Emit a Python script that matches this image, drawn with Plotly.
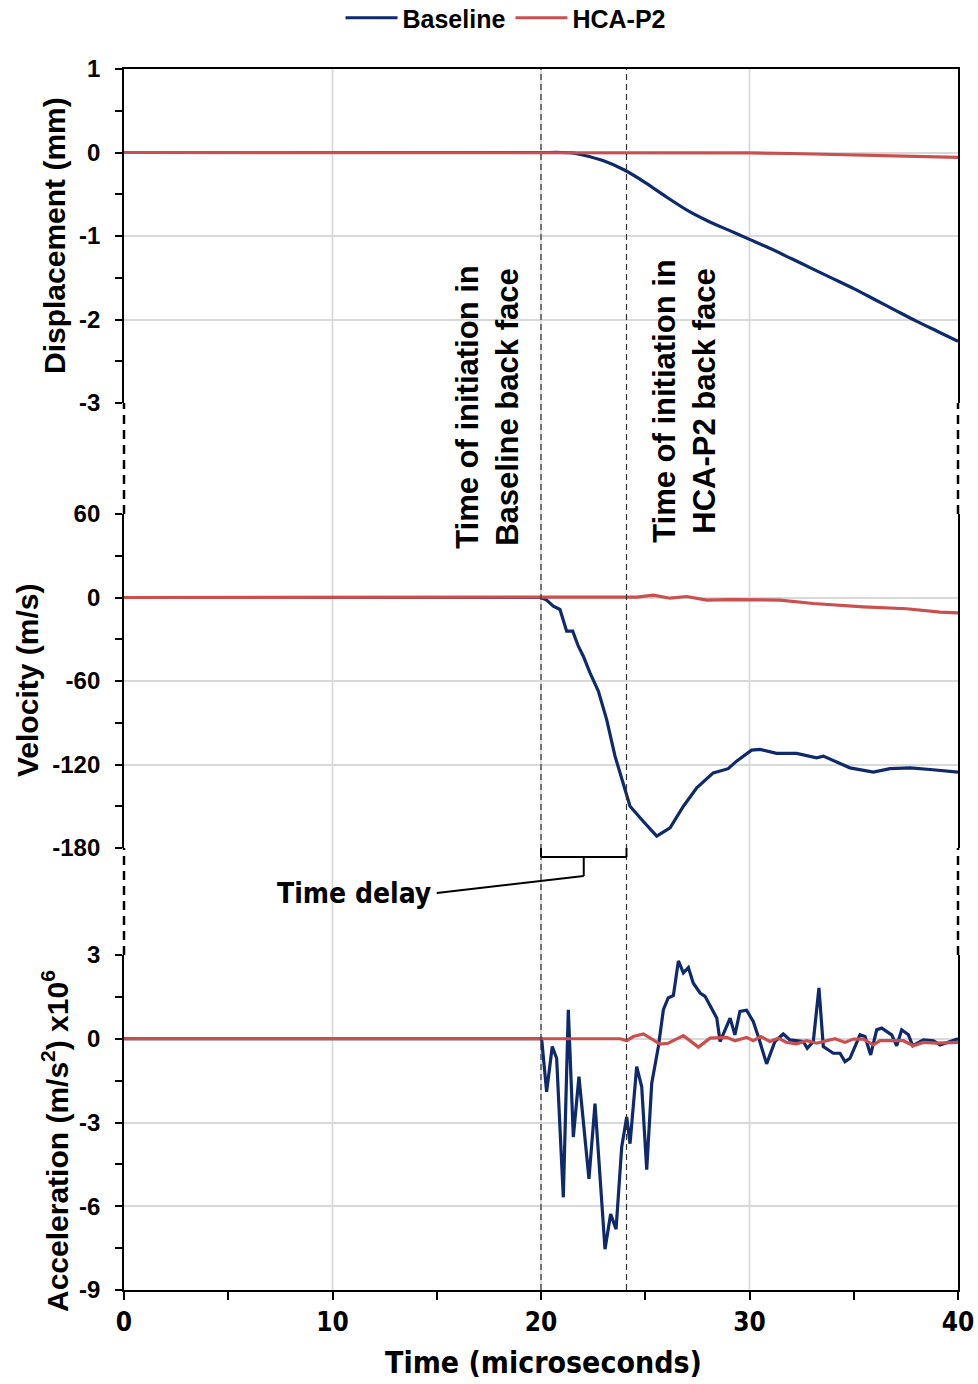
import plotly.graph_objects as go

# ---------------- data ----------------
# Displacement (mm)
t_disp_base = [0, 20, 21, 21.5, 22, 23, 24, 25, 26, 27, 28, 29, 30, 31, 32, 33, 34, 35, 36, 37, 38, 39, 40]
disp_base = [0, 0, 0, -0.005, -0.03, -0.1, -0.21, -0.36, -0.53, -0.69, -0.82, -0.93, -1.04, -1.15, -1.27,
             -1.39, -1.51, -1.63, -1.76, -1.89, -2.02, -2.14, -2.26]
t_disp_hca = [0, 28, 30, 32, 34, 36, 38, 40]
disp_hca = [0, 0, -0.005, -0.012, -0.022, -0.033, -0.045, -0.058]

# Velocity (m/s)
t_vel_base = [0, 20.0, 20.27, 20.59, 20.91, 21.23, 21.52, 21.79, 22.03, 22.35, 22.75, 23.15, 23.55, 23.87,
              24.27, 24.9, 25.55, 26.19, 26.83, 27.47, 28.26, 28.98, 29.38, 30.1, 30.5, 31.3, 32.26,
              33.22, 33.54, 34.82, 35.94, 36.74, 37.7, 38.66, 40]
vel_base = [0, 0, -1.9, -6.2, -8.6, -24.2, -24.2, -35, -42.2, -54.1, -67.3, -87.7, -114, -130.8,
            -150, -160.8, -171.5, -165.5, -150, -136.8, -126, -123, -117.6, -109.7, -109.2, -112, -112,
            -115.2, -114, -122.4, -125.5, -123, -122.4, -123.6, -125.5]
t_vel_hca = [0, 24.0, 24.6, 25.39, 26.19, 26.99, 27.95, 29.07, 31.46, 33.06, 35.46, 37.54, 39.14, 40]
vel_hca = [0, 0, 0.3, 1.7, -0.5, 0.7, -1.9, -1.5, -1.9, -4.3, -6.7, -8.1, -10.5, -11.0]

# Acceleration (m/s^2) x10^6
t_acc_base = [0, 20.03, 20.27, 20.54, 20.75, 21.07, 21.31, 21.55, 21.82, 22.3, 22.59, 23.07, 23.34, 23.6,
              23.87, 24.11, 24.27, 24.59, 24.83, 25.07, 25.31, 25.63, 25.87, 26.1, 26.35, 26.59, 26.83,
              27.07, 27.3, 27.63, 27.87, 28.19, 28.43, 28.59, 29.07, 29.3, 29.54, 29.86, 30.18, 30.42,
              30.82, 31.22, 31.62, 31.94, 32.58, 32.77, 33.06, 33.33, 33.54, 34.02, 34.34, 34.58, 34.82,
              35.3, 35.54, 35.81, 36.1, 36.34, 36.82, 37.06, 37.3, 37.62, 37.83, 38.34, 38.82, 39.14,
              39.62, 40]
acc_base = [0, 0, -1.9, -0.28, -0.7, -5.68, 1.04, -3.52, -1.36, -5.02, -2.32, -7.54, -6.28, -6.82,
            -3.88, -2.8, -3.76, -1.0, -1.72, -4.69, -1.6, -0.28, 1.04, 1.46, 1.55, 2.79, 2.36,
            2.55, 2.0, 1.64, 1.52, 1.04, 0.74, -0.1, 0.74, 0.14, 0.98, 1.02, 0.62, 0.08,
            -0.9, -0.1, 0.17, -0.04, -0.1, -0.34, -0.1, 1.82, -0.28, -0.52, -0.52, -0.82, -0.7,
            0.14, 0.08, -0.58, 0.32, 0.38, 0.14, -0.25, 0.32, 0.14, -0.25, -0.04, -0.07, -0.22,
            -0.1, 0]
t_acc_hca = [0, 23.8, 24.11, 24.43, 24.91, 25.23, 25.71, 26.1, 26.83, 27.55, 28.11, 28.91, 29.3, 29.86,
             30.18, 30.54, 30.98, 31.38, 31.78, 32.26, 32.74, 33.22, 33.62, 34.1, 34.58, 34.98, 35.46,
             35.94, 36.26, 37.06, 37.38, 37.86, 38.34, 38.98, 40]
acc_hca = [0, 0, -0.07, 0.08, 0.17, 0.02, -0.19, -0.16, 0.11, -0.3, 0.02, 0.05, -0.07, 0.05,
           -0.07, 0.08, -0.1, 0.02, -0.13, -0.18, -0.07, -0.16, -0.1, 0, -0.13, -0.01, -0.01,
           -0.22, -0.07, -0.07, -0.07, -0.25, -0.13, -0.16, -0.13]

x_ticks = [0, 10, 20, 30, 40]
disp_ticks = [1, 0, -1, -2, -3]
vel_ticks = [60, 0, -60, -120, -180]
acc_ticks = [3, 0, -3, -6, -9]
t_init_base = 20.0
t_init_hca = 24.1

BLUE = "#0e2a6c"
RED = "#c9504f"
GRID = "#d9d9d9"
FONT = "Liberation Sans, Arial, Helvetica, sans-serif"
NARROW = "Liberation Sans Narrow, DejaVu Sans Condensed, Liberation Sans, Arial, sans-serif"

# layout geometry (pixels)
W, H = 978, 1384
ML, MR, MT, MB = 124, 20, 69, 94
PW, PH = W - ML - MR, H - MT - MB


def py(p):  # pixel y -> paper y
    return (H - MB - p) / PH


def px(p):  # pixel x -> paper x
    return (p - ML) / PW


def bold_labels(vals):
    return ["<b>%g</b>" % v for v in vals]


dom1 = [py(403), 1.0]
dom2 = [py(848), py(514)]
dom3 = [0.0, py(955)]

fig = go.Figure()
series = [
    ("x", "y", t_disp_base, disp_base, t_disp_hca, disp_hca, True, "spline"),
    ("x2", "y2", t_vel_base, vel_base, t_vel_hca, vel_hca, False, "linear"),
    ("x3", "y3", t_acc_base, acc_base, t_acc_hca, acc_hca, False, "linear"),
]
for xa, ya, tb, vb, th, vh, show, shp in series:
    fig.add_trace(go.Scatter(x=tb, y=vb, xaxis=xa, yaxis=ya, mode="lines", name="<b>Baseline</b>",
                             line=dict(color=BLUE, width=3.2, shape=shp, smoothing=0.6),
                             showlegend=show))
    fig.add_trace(go.Scatter(x=th, y=vh, xaxis=xa, yaxis=ya, mode="lines", name="<b>HCA-P2</b>",
                             line=dict(color=RED, width=3.2), showlegend=show))

tickfont_y = dict(family=FONT, size=24, color="black")
common_y = dict(showline=True, mirror=True, linecolor="black", linewidth=1.8, ticks="outside",
                ticklen=7, tickwidth=1.5, tickcolor="black", showgrid=True, gridcolor=GRID,
                gridwidth=1.8, zeroline=False, tickfont=tickfont_y, ticklabelstandoff=10)


def minor(d):
    return dict(dtick=d, tick0=0, ticks="outside", ticklen=7, tickwidth=1.5,
                tickcolor="black", showgrid=False)


fig.update_layout(
    width=W, height=H,
    margin=dict(l=ML, r=MR, t=MT, b=MB, autoexpand=False),
    paper_bgcolor="white", plot_bgcolor="rgba(0,0,0,0)",
    font=dict(family=FONT, color="black"),
    showlegend=True,
    legend=dict(orientation="h", x=px(506), y=py(18), xanchor="center", yanchor="middle",
                font=dict(family=FONT, size=25, color="black"),
                itemwidth=52, tracegroupgap=0, bgcolor="rgba(0,0,0,0)"),
    xaxis=dict(domain=[0, 1], anchor="y", range=[0, 40], side="top", showline=True,
               linecolor="black", linewidth=1.8, ticks="", showticklabels=False, showgrid=False,
               zeroline=False),
    xaxis2=dict(domain=[0, 1], anchor="y2", range=[0, 40], showline=False, ticks="",
                showticklabels=False, showgrid=False, zeroline=False),
    xaxis3=dict(domain=[0, 1], anchor="y3", range=[0, 40], showline=True, linecolor="black",
                linewidth=1.8, ticks="outside", ticklen=8, tickwidth=1.5, tickcolor="black",
                tickvals=x_ticks, ticktext=bold_labels(x_ticks), showgrid=False, zeroline=False,
                minor=dict(dtick=5, tick0=0, ticks="outside", ticklen=8, tickwidth=1.5,
                           tickcolor="black", showgrid=False),
                tickfont=dict(family=NARROW, size=26, color="black")),
    yaxis=dict(domain=dom1, anchor="x", range=[-3, 1], tickvals=disp_ticks,
               ticktext=bold_labels(disp_ticks), minor=minor(0.5), **common_y),
    yaxis2=dict(domain=dom2, anchor="x2", range=[-180, 60], tickvals=vel_ticks,
                ticktext=bold_labels(vel_ticks), minor=minor(30), **common_y),
    yaxis3=dict(domain=dom3, anchor="x3", range=[-9, 3], tickvals=acc_ticks,
                ticktext=bold_labels(acc_ticks), minor=minor(1.5), **common_y),
)

shapes = []
# vertical grid lines through the whole chart
for xv in [10, 20, 30]:
    shapes.append(dict(type="line", xref="x3", yref="paper", x0=xv, x1=xv, y0=0, y1=1,
                       line=dict(color=GRID, width=1.8), layer="below"))
# dashed breaks at left/right borders (paper refs so they are not clipped)
for (lo, hi) in [(dom2[1], dom1[0]), (dom3[1], dom2[0])]:
    for xv in [0, 1]:
        shapes.append(dict(type="line", xref="paper", yref="paper", x0=xv, x1=xv, y0=lo, y1=hi,
                           line=dict(color="black", width=2.5, dash="9px,6px")))
# initiation dashed lines
for xv in [t_init_base, t_init_hca]:
    shapes.append(dict(type="line", xref="x3", yref="paper", x0=xv, x1=xv, y0=0, y1=1,
                       line=dict(color="#333333", width=1.2, dash="6px,4px")))
# time-delay bracket
mid = (t_init_base + t_init_hca) / 2
yb = py(857)
shapes += [
    dict(type="line", xref="x3", yref="paper", x0=t_init_base, x1=t_init_hca, y0=yb, y1=yb,
         line=dict(color="black", width=2)),
    dict(type="line", xref="x3", yref="paper", x0=t_init_base, x1=t_init_base, y0=py(848), y1=yb,
         line=dict(color="black", width=2)),
    dict(type="line", xref="x3", yref="paper", x0=t_init_hca, x1=t_init_hca, y0=py(848), y1=yb,
         line=dict(color="black", width=2)),
    dict(type="line", xref="x3", yref="paper", x0=mid, x1=mid, y0=yb, y1=py(876),
         line=dict(color="black", width=2)),
    dict(type="line", xref="x3", yref="paper", x0=mid, x1=15.0, y0=py(876), y1=py(893),
         line=dict(color="black", width=2)),
]
fig.update_layout(shapes=shapes)

ann_font = dict(family=FONT, size=30, color="black")
annotations = [
    dict(text="<b>Time of initiation in<br>Baseline back face</b>", xref="x3", yref="paper",
         x=17.45, y=py(407), textangle=-90, showarrow=False,
         font=dict(family=FONT, size=31, color="black"), xanchor="center", yanchor="middle"),
    dict(text="<b>Time of initiation in<br>HCA-P2 back face</b>", xref="x3", yref="paper",
         x=26.85, y=py(401), textangle=-90, showarrow=False,
         font=dict(family=FONT, size=31, color="black"), xanchor="center", yanchor="middle"),
    dict(text="<b>Time delay</b>", xref="x3", yref="paper", x=14.8, y=py(893), showarrow=False,
         font=dict(family=NARROW, size=28, color="black"),
         xanchor="right", yanchor="middle"),
    dict(text="<b>Displacement (mm)</b>", xref="paper", yref="paper", x=px(55), y=py(236),
         textangle=-90, showarrow=False, font=ann_font, xanchor="center", yanchor="middle"),
    dict(text="<b>Velocity (m/s)</b>", xref="paper", yref="paper", x=px(28), y=py(681),
         textangle=-90, showarrow=False, font=ann_font, xanchor="center", yanchor="middle"),
    dict(text="<b>Acceleration (m/s<sup>2</sup>) x10<sup>6</sup></b>", xref="paper",
         yref="paper", x=px(55), y=py(1141), textangle=-90, showarrow=False, font=ann_font,
         xanchor="center", yanchor="middle"),
    dict(text="<b>Time (microseconds)</b>", xref="paper", yref="paper", x=px(543), y=py(1362),
         showarrow=False, font=dict(family=NARROW, size=30, color="black"),
         xanchor="center", yanchor="middle"),
]
fig.update_layout(annotations=annotations)

fig.write_html("out.html")
